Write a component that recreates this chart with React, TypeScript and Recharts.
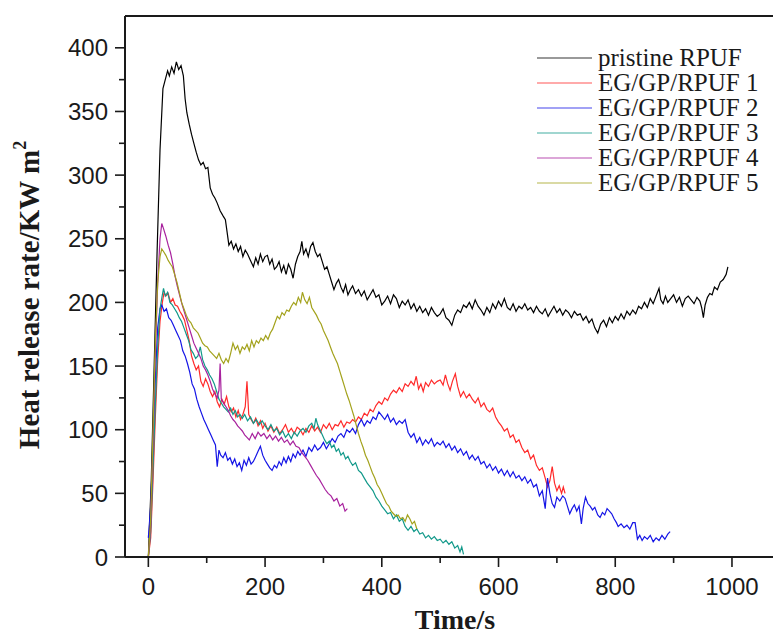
import React from 'react';
import { LineChart, Line, XAxis, YAxis, Legend, ReferenceLine } from 'recharts';

// ---------- data: [time (s), heat release rate (kW/m2)] ----------
const pristine: [number, number][] = [
  [0,0],[5,60],[10,150],[15,240],[20,320],[25,368],[29,375],[33,382],[36,378],[40,385],[44,380],[48,389],[52,383],[56,386],[60,378],[63,360],[66,349],[70,340],[74,332],[78,325],[82,318],[86,312],[90,308],[94,310],[98,305],[102,306],[106,290],[110,285],[114,282],[118,278],[123,272],[128,268],[132,265],[135,255],[138,245],[142,248],[146,242],[150,246],[154,240],[158,244],[162,236],[166,241],[170,238],[175,233],[180,228],[184,235],[188,230],[192,238],[196,232],[200,236],[204,237],[208,230],[212,234],[216,226],[220,228],[224,232],[228,224],[232,229],[236,222],[240,230],[244,226],[248,219],[252,230],[256,236],[260,240],[263,248],[266,238],[270,242],[274,236],[278,244],[282,247],[286,240],[290,236],[294,238],[298,232],[302,226],[306,228],[310,222],[314,216],[318,210],[322,215],[326,218],[330,212],[334,208],[338,214],[342,206],[346,210],[350,213],[355,207],[360,210],[365,205],[370,209],[375,202],[380,206],[385,210],[390,204],[395,206],[400,198],[405,201],[410,205],[415,199],[420,206],[425,203],[430,196],[435,201],[440,198],[445,202],[450,195],[455,199],[460,193],[465,197],[470,192],[475,195],[480,190],[485,196],[490,192],[495,189],[500,191],[505,195],[510,188],[515,186],[520,182],[525,190],[530,194],[535,192],[540,198],[545,196],[550,200],[555,195],[560,202],[565,197],[570,194],[575,190],[580,196],[585,192],[590,199],[595,195],[600,201],[605,197],[610,203],[615,196],[620,194],[625,199],[630,193],[635,197],[640,195],[645,199],[650,194],[655,196],[660,192],[665,197],[670,193],[675,191],[680,195],[685,189],[690,193],[695,197],[700,192],[705,195],[710,190],[715,194],[720,192],[725,188],[730,193],[735,190],[740,191],[745,186],[750,189],[755,184],[760,187],[765,180],[770,176],[775,183],[780,186],[785,181],[790,188],[795,184],[800,189],[805,186],[810,191],[815,187],[820,193],[825,190],[830,194],[835,191],[840,197],[845,195],[850,200],[855,196],[860,203],[865,199],[870,205],[875,211],[878,202],[882,199],[886,205],[890,200],[895,203],[900,206],[905,200],[910,204],[915,197],[920,203],[925,205],[930,202],[935,199],[940,204],[945,201],[948,196],[951,188],[954,198],[958,204],[962,207],[966,206],[970,212],[975,210],[980,216],[985,218],[990,222],[993,228]
];

const egp1: [number, number][] = [
  [0,0],[4,15],[8,60],[12,110],[16,155],[20,185],[24,200],[27,208],[30,205],[34,207],[38,200],[42,203],[46,198],[50,197],[54,193],[58,190],[62,186],[66,178],[70,170],[74,158],[78,152],[82,147],[86,150],[90,138],[94,134],[98,140],[102,136],[106,130],[110,126],[114,130],[118,122],[122,118],[126,124],[130,120],[134,126],[138,118],[142,114],[146,117],[150,110],[154,115],[158,108],[162,112],[166,118],[169,138],[172,112],[176,108],[180,105],[184,109],[188,103],[192,107],[196,101],[200,105],[205,99],[210,103],[215,98],[220,102],[225,97],[230,100],[235,104],[240,98],[245,101],[250,97],[255,102],[260,100],[265,96],[270,101],[275,98],[280,103],[285,99],[290,102],[295,98],[300,104],[305,101],[310,105],[315,100],[320,104],[325,103],[330,107],[335,102],[340,106],[345,105],[350,108],[355,106],[360,110],[365,108],[370,113],[375,111],[380,116],[385,114],[390,119],[395,122],[400,120],[405,125],[410,123],[415,128],[420,131],[425,129],[430,133],[435,130],[440,136],[445,134],[450,138],[455,135],[459,142],[463,132],[467,136],[471,130],[475,137],[480,134],[485,139],[490,136],[495,138],[500,139],[505,135],[509,143],[513,136],[517,131],[521,138],[526,144],[530,134],[535,126],[540,130],[545,125],[550,128],[555,124],[560,121],[565,125],[570,118],[575,121],[580,116],[585,114],[590,117],[595,110],[600,106],[605,103],[610,99],[615,101],[620,94],[625,96],[630,90],[635,92],[640,86],[645,82],[650,84],[655,77],[660,80],[665,72],[670,68],[675,70],[680,62],[684,55],[688,60],[692,71],[696,58],[700,52],[704,56],[708,50],[711,55],[714,50]
];

const egp2: [number, number][] = [
  [0,15],[4,40],[8,90],[12,140],[16,180],[20,195],[23,198],[27,193],[31,195],[35,188],[39,186],[43,182],[47,178],[51,174],[55,170],[59,162],[63,158],[67,152],[71,145],[75,136],[79,132],[83,124],[87,118],[91,113],[95,108],[99,104],[103,100],[107,96],[111,92],[115,88],[118,71],[121,84],[124,80],[128,78],[132,82],[136,76],[140,78],[144,73],[148,77],[152,71],[156,74],[160,68],[164,76],[168,72],[172,78],[176,73],[180,75],[184,79],[188,83],[192,87],[196,80],[200,76],[204,73],[208,70],[212,68],[216,72],[220,70],[224,75],[228,72],[232,78],[236,74],[240,79],[244,75],[248,81],[252,78],[256,83],[260,80],[265,84],[270,79],[275,86],[280,83],[285,88],[290,84],[295,86],[300,90],[305,85],[310,89],[315,93],[320,90],[325,95],[330,97],[335,94],[340,100],[345,98],[350,101],[355,97],[360,104],[365,108],[370,103],[375,107],[380,105],[385,110],[390,108],[395,114],[400,111],[405,108],[410,112],[415,106],[420,109],[425,104],[430,107],[435,105],[440,108],[445,98],[450,94],[455,97],[460,90],[465,94],[470,88],[475,92],[480,89],[485,93],[490,87],[495,90],[500,88],[505,91],[510,86],[515,89],[520,84],[525,87],[530,82],[535,85],[540,80],[545,83],[550,77],[555,80],[560,76],[565,79],[570,73],[575,75],[580,70],[585,73],[590,68],[595,71],[600,66],[605,69],[610,64],[615,68],[620,63],[625,67],[630,62],[635,64],[640,60],[645,63],[650,58],[655,61],[660,55],[665,57],[670,48],[675,52],[680,38],[684,62],[688,50],[692,42],[696,39],[700,47],[705,44],[710,48],[714,46],[718,40],[722,34],[726,38],[730,41],[734,36],[738,40],[742,26],[745,38],[749,47],[753,42],[757,40],[761,37],[765,39],[770,33],[774,31],[778,35],[782,33],[786,38],[790,36],[794,34],[798,30],[802,27],[805,24],[810,26],[815,23],[820,25],[825,22],[830,27],[834,27],[838,14],[842,17],[846,13],[850,16],[855,14],[860,17],[865,12],[870,15],[875,13],[880,17],[885,14],[890,18],[894,20]
];

const egp3: [number, number][] = [
  [0,0],[4,20],[8,70],[12,120],[16,165],[20,195],[24,206],[26,211],[29,205],[33,208],[37,200],[41,198],[45,195],[49,192],[53,188],[57,185],[61,180],[65,175],[69,170],[73,163],[77,160],[81,156],[85,158],[89,165],[93,155],[97,150],[101,147],[105,143],[109,140],[113,136],[117,130],[121,124],[125,121],[129,118],[133,116],[137,114],[141,117],[145,112],[149,115],[153,110],[157,112],[161,109],[165,112],[170,107],[175,110],[180,105],[185,108],[190,104],[195,107],[200,103],[205,100],[210,104],[215,99],[220,101],[225,96],[230,99],[235,94],[240,97],[245,93],[250,98],[255,95],[260,99],[265,101],[270,98],[275,103],[280,105],[284,101],[287,109],[290,104],[294,100],[298,96],[302,92],[306,89],[310,91],[314,86],[318,88],[322,83],[326,85],[330,80],[334,82],[338,77],[342,79],[346,75],[350,72],[355,74],[360,68],[365,66],[370,62],[375,58],[380,55],[385,52],[390,47],[395,44],[400,40],[405,37],[410,34],[415,35],[420,30],[425,33],[430,28],[435,30],[440,24],[445,21],[450,24],[455,20],[460,22],[465,18],[470,19],[475,15],[480,17],[485,14],[490,16],[495,13],[500,14],[505,11],[510,13],[515,10],[520,12],[525,7],[530,9],[534,4],[537,8],[540,2]
];

const egp4: [number, number][] = [
  [0,0],[4,25],[8,90],[12,160],[16,215],[20,250],[23,262],[26,258],[30,252],[34,245],[38,239],[42,230],[46,220],[50,212],[54,205],[58,198],[62,192],[66,186],[70,180],[74,174],[78,168],[82,164],[86,160],[90,156],[94,150],[98,147],[102,143],[106,138],[110,132],[114,128],[118,125],[121,131],[123,152],[125,124],[129,121],[133,118],[137,115],[141,111],[145,108],[149,106],[153,103],[157,101],[161,99],[165,96],[169,94],[173,92],[178,97],[183,93],[188,98],[193,95],[198,97],[203,93],[208,96],[213,92],[218,95],[223,91],[228,94],[233,90],[238,92],[243,88],[248,91],[253,87],[258,86],[263,82],[268,79],[273,76],[278,72],[283,68],[288,64],[293,61],[298,57],[303,53],[308,50],[313,48],[318,44],[323,46],[328,40],[333,42],[337,36],[341,38]
];

const egp5: [number, number][] = [
  [0,0],[4,30],[8,100],[12,170],[16,215],[20,236],[23,242],[26,240],[30,237],[34,233],[38,230],[41,228],[45,222],[49,216],[53,208],[57,200],[61,195],[65,190],[69,186],[73,184],[77,180],[81,178],[85,176],[89,172],[93,168],[97,166],[101,165],[105,162],[109,160],[113,158],[117,156],[121,160],[125,155],[129,152],[133,156],[137,153],[141,160],[145,168],[149,163],[153,166],[157,160],[161,165],[165,163],[169,167],[173,162],[177,170],[181,165],[185,170],[189,168],[193,172],[197,170],[201,174],[205,171],[209,176],[213,179],[217,184],[221,189],[225,187],[229,192],[233,190],[237,194],[241,193],[245,197],[249,200],[253,198],[257,204],[261,200],[264,208],[268,202],[272,199],[276,204],[280,196],[284,193],[288,190],[292,186],[296,183],[300,178],[304,174],[308,170],[312,165],[316,160],[320,156],[324,152],[328,146],[332,140],[336,134],[340,128],[344,123],[348,117],[352,111],[356,104],[360,97],[364,91],[368,86],[372,80],[376,76],[380,71],[384,66],[388,62],[392,57],[396,54],[400,50],[404,46],[408,42],[412,40],[416,36],[420,34],[424,32],[428,33],[432,30],[436,31],[440,28],[444,33],[448,30],[452,26],[456,28],[460,22]
];

const seriesNames = ['pristine RPUF', 'EG/GP/RPUF 1', 'EG/GP/RPUF 2', 'EG/GP/RPUF 3', 'EG/GP/RPUF 4', 'EG/GP/RPUF 5'];
const seriesColors = ['#000000', '#ff2a2a', '#1515e6', '#12998a', '#a8229e', '#a3a21c'];
const xTicks = [0, 100, 200, 300, 400, 500, 600, 700, 800, 900, 1000];
const yTicks = [0, 25, 50, 75, 100, 125, 150, 175, 200, 225, 250, 275, 300, 325, 350, 375, 400];

const toPts = (arr: [number, number][]) => arr.map(([t, v]) => ({ t, v }));
const allSeries = [pristine, egp1, egp2, egp3, egp4, egp5].map(toPts);

const AX = '#1a1a1a';
const SANS = 'Liberation Sans, Arial, sans-serif';
const SERIF = 'Liberation Serif, Times New Roman, serif';

const XTick = (props: any) => {
  const { x, y, payload } = props;
  const major = payload.value % 200 === 0;
  return (
    <g>
      <line x1={x} y1={y} x2={x} y2={y + (major ? 10 : 6)} stroke={AX} strokeWidth={1.6} />
      {major && (
        <text x={x} y={y + 38} textAnchor="middle" fontSize={24} fontFamily={SANS} fill={AX}>
          {payload.value}
        </text>
      )}
    </g>
  );
};

const YTick = (props: any) => {
  const { x, y, payload } = props;
  const major = payload.value % 50 === 0;
  return (
    <g>
      <line x1={x} y1={y} x2={x - (major ? 10 : 6)} y2={y} stroke={AX} strokeWidth={1.6} />
      {major && (
        <text x={x - 17} y={y + 8.5} textAnchor="end" fontSize={24} fontFamily={SANS} fill={AX}>
          {payload.value}
        </text>
      )}
    </g>
  );
};

const XTitle = () => (
  <text x={447} y={621} textAnchor="middle" fontSize={28} fontWeight="bold" fontFamily={SERIF} fill={AX}>
    Time/s
  </text>
);

const YTitle = () => (
  <text
    transform="translate(31, 287) rotate(-90)"
    textAnchor="middle"
    fontSize={29}
    fontWeight="bold"
    fontFamily={SERIF}
    fill={AX}
  >
    Heat release rate/KW m<tspan dy={-13} fontSize={18}>2</tspan>
  </text>
);

const LegendBox = () => (
  <svg width={248} height={160}>
    {seriesNames.map((name, i) => {
      const cy = 15 + i * 25;
      return (
        <g key={name}>
          <line x1={4} y1={cy} x2={59} y2={cy} stroke={seriesColors[i]} strokeWidth={1.2} strokeOpacity={0.8} />
          <text x={65} y={cy + 8} fontSize={25} fontFamily={SERIF} fill={AX}>
            {name}
          </text>
        </g>
      );
    })}
  </svg>
);

export default function App() {
  return (
    <div style={{ width: 773, height: 627 }}>
      <style>{'html, body { overflow: hidden; }'}</style>
      <LineChart width={773} height={627} margin={{ top: 8, right: 0, bottom: 0, left: 0 }}>
        <XAxis
          type="number"
          dataKey="t"
          domain={[-40, 1084]}
          ticks={xTicks}
          allowDataOverflow
          height={78}
          tickSize={0}
          tickMargin={0}
          tickLine={false}
          tick={<XTick />}
          axisLine={{ stroke: AX, strokeWidth: 2 }}
          label={<XTitle />}
        />
        <YAxis
          type="number"
          dataKey="v"
          domain={[0, 425]}
          ticks={yTicks}
          allowDataOverflow
          width={117}
          tickSize={0}
          tickMargin={0}
          tickLine={false}
          tick={<YTick />}
          axisLine={{ stroke: AX, strokeWidth: 2 }}
          label={<YTitle />}
        />
        <ReferenceLine y={425} stroke={AX} strokeWidth={2} ifOverflow="visible" />
        {allSeries.map((d, i) => (
          <Line
            key={seriesNames[i]}
            data={d}
            dataKey="v"
            name={seriesNames[i]}
            type="linear"
            stroke={seriesColors[i]}
            strokeWidth={1.2}
            dot={false}
            activeDot={false}
            isAnimationActive={false}
          />
        ))}
        <Legend
          layout="vertical"
          align="center"
          verticalAlign="middle"
          wrapperStyle={{ position: 'absolute', left: 525, top: 35, width: 248, height: 160 }}
          content={<LegendBox />}
        />
      </LineChart>
    </div>
  );
}
